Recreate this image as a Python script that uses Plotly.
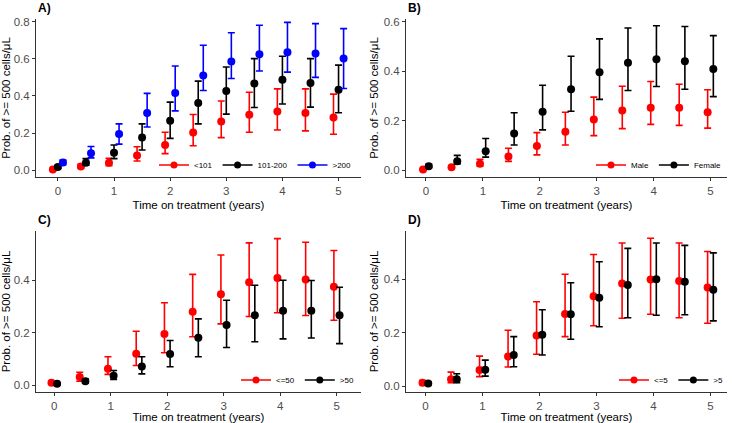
import numpy as np
import plotly.graph_objects as go

times = [0, 0.5, 1, 1.5, 2, 2.5, 3, 3.5, 4, 4.5, 5]

# Panel A: baseline CD4 groups
a_lt101_est = [0.005, 0.020, 0.040, 0.080, 0.136, 0.203, 0.262, 0.299, 0.317, 0.308, 0.284]
a_lt101_lo = [0.002, 0.012, 0.025, 0.050, 0.090, 0.132, 0.176, 0.205, 0.217, 0.212, 0.194]
a_lt101_hi = [0.010, 0.032, 0.065, 0.127, 0.205, 0.300, 0.373, 0.420, 0.438, 0.438, 0.410]

a_mid_est = [0.018, 0.040, 0.094, 0.176, 0.266, 0.362, 0.427, 0.467, 0.487, 0.470, 0.434]
a_mid_lo = [0.010, 0.027, 0.063, 0.109, 0.172, 0.250, 0.302, 0.338, 0.357, 0.340, 0.310]
a_mid_hi = [0.028, 0.063, 0.136, 0.250, 0.367, 0.480, 0.556, 0.601, 0.614, 0.601, 0.566]

a_gt200_est = [0.042, 0.092, 0.195, 0.308, 0.416, 0.510, 0.585, 0.624, 0.635, 0.628, 0.601]
a_gt200_lo = [0.030, 0.067, 0.141, 0.233, 0.320, 0.429, 0.494, 0.534, 0.528, 0.500, 0.440]
a_gt200_hi = [0.055, 0.128, 0.250, 0.414, 0.561, 0.673, 0.740, 0.780, 0.796, 0.789, 0.762]

# Panel B: sex
b_male_est = [0.003, 0.012, 0.026, 0.056, 0.098, 0.155, 0.205, 0.241, 0.252, 0.252, 0.234]
b_male_lo = [0.001, 0.007, 0.017, 0.036, 0.062, 0.102, 0.140, 0.168, 0.185, 0.181, 0.170]
b_male_hi = [0.006, 0.018, 0.044, 0.089, 0.152, 0.234, 0.295, 0.339, 0.358, 0.347, 0.325]

b_female_est = [0.016, 0.037, 0.077, 0.148, 0.236, 0.327, 0.395, 0.434, 0.448, 0.440, 0.408]
b_female_lo = [0.010, 0.026, 0.053, 0.102, 0.163, 0.238, 0.286, 0.322, 0.338, 0.327, 0.297]
b_female_hi = [0.024, 0.060, 0.128, 0.232, 0.343, 0.460, 0.530, 0.574, 0.583, 0.580, 0.543]

# Panel C: age
c_le50_est = [0.010, 0.032, 0.063, 0.120, 0.195, 0.280, 0.347, 0.392, 0.408, 0.403, 0.375]
c_le50_lo = [0.005, 0.016, 0.042, 0.076, 0.124, 0.185, 0.234, 0.262, 0.276, 0.266, 0.248]
c_le50_hi = [0.016, 0.050, 0.109, 0.206, 0.314, 0.422, 0.496, 0.542, 0.558, 0.544, 0.513]

c_gt50_est = [0.006, 0.016, 0.037, 0.072, 0.119, 0.181, 0.230, 0.267, 0.284, 0.284, 0.267]
c_gt50_lo = [0.003, 0.008, 0.023, 0.044, 0.071, 0.109, 0.144, 0.166, 0.177, 0.180, 0.159]
c_gt50_hi = [0.010, 0.025, 0.057, 0.109, 0.171, 0.253, 0.324, 0.381, 0.400, 0.399, 0.373]

# Panel D
d_le5_est = [0.012, 0.025, 0.060, 0.111, 0.189, 0.270, 0.336, 0.384, 0.399, 0.394, 0.369]
d_le5_lo = [0.006, 0.012, 0.035, 0.071, 0.119, 0.185, 0.226, 0.254, 0.269, 0.256, 0.235]
d_le5_hi = [0.020, 0.052, 0.112, 0.209, 0.316, 0.419, 0.493, 0.536, 0.554, 0.536, 0.504]

d_gt5_est = [0.009, 0.025, 0.061, 0.116, 0.192, 0.269, 0.331, 0.379, 0.400, 0.391, 0.361]
d_gt5_lo = [0.005, 0.012, 0.037, 0.072, 0.116, 0.175, 0.222, 0.256, 0.265, 0.267, 0.244]
d_gt5_hi = [0.014, 0.046, 0.097, 0.185, 0.286, 0.387, 0.466, 0.516, 0.536, 0.527, 0.499]

RED, BLACK, BLUE = "#FF0000", "#000000", "#0000FF"

panels = [
    dict(key="A", dodge=0.09, series=[
        ("&lt;101", RED, a_lt101_est, a_lt101_lo, a_lt101_hi),
        ("101-200", BLACK, a_mid_est, a_mid_lo, a_mid_hi),
        ("&gt;200", BLUE, a_gt200_est, a_gt200_lo, a_gt200_hi)]),
    dict(key="B", dodge=0.05, series=[
        ("Male", RED, b_male_est, b_male_lo, b_male_hi),
        ("Female", BLACK, b_female_est, b_female_lo, b_female_hi)]),
    dict(key="C", dodge=0.05, series=[
        ("&lt;=50", RED, c_le50_est, c_le50_lo, c_le50_hi),
        ("&gt;50", BLACK, c_gt50_est, c_gt50_lo, c_gt50_hi)]),
    dict(key="D", dodge=0.05, series=[
        ("&lt;=5", RED, d_le5_est, d_le5_lo, d_le5_hi),
        ("&gt;5", BLACK, d_gt5_est, d_gt5_lo, d_gt5_hi)]),
]

W, H = 732, 423
# pixel boxes (left, right, top, bottom)
boxes = {"A": (36, 361, 19, 177), "B": (406, 727, 19, 177),
         "C": (36, 361, 231, 392), "D": (406, 727, 231, 392)}
xranges = {"A": [-0.39, 5.40], "B": [-0.35, 5.29], "C": [-0.324, 5.43], "D": [-0.34, 5.29]}
yranges = {"A": [-0.036, 0.814], "B": [-0.027, 0.61], "C": [-0.025, 0.587], "D": [-0.0225, 0.581]}
ytickvals = {"A": [0, 0.2, 0.4, 0.6, 0.8], "B": [0, 0.2, 0.4, 0.6], "C": [0, 0.2, 0.4], "D": [0, 0.2, 0.4]}
legend_pos = {"A": (357, 165), "B": (727, 165), "C": (359, 380), "D": (729, 380)}

fig = go.Figure()
FONT = "Liberation Sans, Arial, sans-serif"

for i, p in enumerate(panels):
    k = p["key"]
    sfx = "" if i == 0 else str(i + 1)
    n = len(p["series"])
    if n == 2:
        offs = [-p["dodge"], p["dodge"]]
    else:
        offs = [(j - (n - 1) / 2) * p["dodge"] for j in range(n)]
    leg = "legend" + sfx
    for (name, col, est, lo, hi), off in zip(p["series"], offs):
        est, lo, hi = np.array(est), np.array(lo), np.array(hi)
        xs = np.array(times) + off
        fig.add_trace(go.Scatter(
            x=xs, y=est, mode="markers", showlegend=False,
            marker=dict(color=col, size=8),
            error_y=dict(type="data", symmetric=False, array=hi - est, arrayminus=est - lo,
                         color=col, thickness=1.6, width=3.5),
            xaxis="x" + sfx, yaxis="y" + sfx))
        fig.add_trace(go.Scatter(
            x=[None], y=[None], mode="lines+markers", name=name, legend=leg,
            line=dict(color=col, width=1.6), marker=dict(color=col, size=7),
            xaxis="x" + sfx, yaxis="y" + sfx))

    l, r, t, b = boxes[k]
    axis_common = dict(showline=True, linecolor="#333333", linewidth=1, ticks="outside",
                       ticklen=3, tickcolor="#333333", tickwidth=1, showgrid=False, zeroline=False,
                       automargin=False,
                       tickfont=dict(family=FONT, size=11.5, color="#4d4d4d"))
    fig.layout["xaxis" + sfx] = dict(
        axis_common, domain=[l / W, r / W], range=xranges[k], anchor="y" + sfx,
        tickvals=[0, 1, 2, 3, 4, 5],
        title=dict(text="Time on treatment (years)", standoff=5,
                   font=dict(family=FONT, size=11.5, color="#000000")))
    fig.layout["yaxis" + sfx] = dict(
        axis_common, domain=[1 - b / H, 1 - t / H], range=yranges[k], anchor="x" + sfx,
        tickvals=ytickvals[k], tickformat=".1f",
        title=dict(text="Prob. of >= 500 cells/μL", standoff=2,
                   font=dict(family=FONT, size=11.5, color="#000000")))
    lx, ly = legend_pos[k]
    fig.layout[leg] = dict(
        orientation="h", x=lx / W, y=1 - ly / H, xanchor="right", yanchor="middle",
        font=dict(family=FONT, size=8, color="#000000"), bgcolor="rgba(255,255,255,0)",
        itemwidth=30, tracegroupgap=0)
    fig.add_annotation(text="<b>%s)</b>" % k, x=l / W, y=1 - (t - 11) / H, xref="paper", yref="paper",
                       xanchor="left", yanchor="middle", showarrow=False,
                       font=dict(family=FONT, size=12, color="#000000"))

fig.update_layout(width=W, height=H, margin=dict(l=0, r=0, t=0, b=0, autoexpand=False),
                  paper_bgcolor="white", plot_bgcolor="white",
                  font=dict(family=FONT))
fig.write_html("out.html", config={"displayModeBar": False},
               post_script="document.body.style.margin='0';document.body.style.padding='0';"
                           "document.body.style.overflow='hidden';")
